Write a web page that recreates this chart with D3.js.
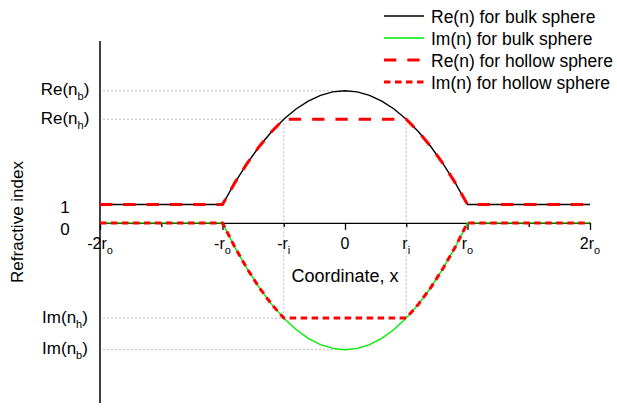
<!DOCTYPE html>
<html>
<head>
<meta charset="utf-8">
<script src="https://cdn.jsdelivr.net/npm/d3@7"></script>
<style>
  body { margin: 0; background: #fff; }
  text { font-family: "Liberation Sans", Arial, sans-serif; fill: #000; }
</style>
</head>
<body>
<div id="chart"></div>
<script>
// Data (x in units of r_o, y in arbitrary index units)
const xs       = [-2, -1, -0.9, -0.8, -0.7, -0.6, -0.5, -0.4, -0.3, -0.2, -0.1, 0, 0.1, 0.2, 0.3, 0.4, 0.5, 0.6, 0.7, 0.8, 0.9, 1, 2];
const reBulk   = [1, 1, 2.18, 3.23, 4.16, 4.96, 5.64, 6.20, 6.63, 6.94, 7.13, 7.19, 7.13, 6.94, 6.63, 6.20, 5.64, 4.96, 4.16, 3.23, 2.18, 1, 1];
const imBulk   = [0, 0, -1.31, -2.48, -3.52, -4.42, -5.18, -5.80, -6.28, -6.62, -6.83, -6.90, -6.83, -6.62, -6.28, -5.80, -5.18, -4.42, -3.52, -2.48, -1.31, 0, 0];
const reHollow = [1, 1, 2.18, 3.23, 4.16, 4.96, 5.64, 5.64, 5.64, 5.64, 5.64, 5.64, 5.64, 5.64, 5.64, 5.64, 5.64, 4.96, 4.16, 3.23, 2.18, 1, 1];
const imHollow = [0, 0, -1.31, -2.48, -3.52, -4.42, -5.18, -5.18, -5.18, -5.18, -5.18, -5.18, -5.18, -5.18, -5.18, -5.18, -5.18, -4.42, -3.52, -2.48, -1.31, 0, 0];

const xMajor = [-2, -1, 0, 1, 2];
const xMinor = [-1.5, -0.5, 0.5, 1.5];
const xTickLabels = [
  {v: -2, main: "-2r", sub: "o"},
  {v: -1, main: "-r", sub: "o"},
  {v: -0.5, main: "-r", sub: "i"},
  {v: 0, main: "0", sub: ""},
  {v: 0.5, main: "r", sub: "i"},
  {v: 1, main: "r", sub: "o"},
  {v: 2, main: "2r", sub: "o"}
];
const yTickLabels = [
  {v: 7.19, main: "Re(n", sub: "b", end: ")"},
  {v: 5.64, main: "Re(n", sub: "h", end: ")"},
  {v: 1, main: "1", sub: "", end: ""},
  {v: 0, main: "0", sub: "", end: ""},
  {v: -5.18, main: "Im(n", sub: "h", end: ")"},
  {v: -6.90, main: "Im(n", sub: "b", end: ")"}
];
const legendLabels = ["Re(n) for bulk sphere", "Im(n) for bulk sphere", "Re(n) for hollow sphere", "Im(n) for hollow sphere"];

// Layout
const width = 617, height = 408;
const svg = d3.select("#chart").append("svg")
  .attr("width", width)
  .attr("height", height);

const x = d3.scaleLinear().domain([-2, 2]).range([100, 590]);
const y = d3.scaleLinear().domain([-9.8, 9.9]).range([403, 41]);

// dotted guide lines
const guides = svg.append("g")
  .attr("stroke", "#bdbdbd")
  .attr("stroke-width", 1)
  .attr("stroke-dasharray", "2,2");
[[7.19, 0], [5.64, -0.5], [-5.18, -0.5], [-6.90, 0]].forEach(d => {
  guides.append("line")
    .attr("x1", x(-2) + 3).attr("x2", x(d[1]))
    .attr("y1", y(d[0])).attr("y2", y(d[0]));
});
[-0.5, 0.5].forEach(v => {
  guides.append("line")
    .attr("x1", x(v)).attr("x2", x(v))
    .attr("y1", y(5.64)).attr("y2", y(-5.18));
});

// axes
let axMajor = d3.axisBottom(x).tickValues(xMajor).tickSizeInner(7).tickSizeOuter(0).tickFormat("");
let axMinor = d3.axisBottom(x).tickValues(xMinor).tickSizeInner(4).tickSizeOuter(0).tickFormat("");
let xg = svg.append("g").attr("transform", `translate(0,${y(0)})`).call(axMajor);
let xg2 = svg.append("g").attr("transform", `translate(0,${y(0)})`).call(axMinor);
[xg, xg2].forEach(g => {
  g.selectAll("path,line").attr("stroke", "#000").attr("stroke-width", 1.3);
});
xg2.select(".domain").remove();

svg.append("line")
  .attr("x1", x(-2)).attr("x2", x(-2))
  .attr("y1", y(9.9)).attr("y2", y(-9.8))
  .attr("stroke", "#000").attr("stroke-width", 1.5);

// x tick labels
xTickLabels.forEach(d => {
  let t = svg.append("text")
    .attr("x", x(d.v)).attr("y", y(0) + 26)
    .attr("text-anchor", "middle")
    .style("font-size", "16px");
  t.append("tspan").text(d.main);
  if (d.sub) t.append("tspan").attr("dy", 5).style("font-size", "11px").text(d.sub);
});

// y tick labels
yTickLabels.forEach(d => {
  let dy = d.main == "0" ? 12 : d.main == "1" ? 8 : 4.5;
  let t = svg.append("text")
    .attr("x", 65).attr("y", y(d.v) + dy)
    .attr("text-anchor", "middle")
    .style("font-size", "17px");
  t.append("tspan").text(d.main);
  if (d.sub) {
    t.append("tspan").attr("dy", 5).style("font-size", "11px").text(d.sub);
    t.append("tspan").attr("dy", -5).text(d.end);
  }
});

// axis titles
svg.append("text")
  .attr("x", x(0)).attr("y", 282)
  .attr("text-anchor", "middle")
  .style("font-size", "18px")
  .text("Coordinate, x");
svg.append("text")
  .attr("transform", `translate(23,${(y(9.9) + y(-9.8)) / 2}) rotate(-90)`)
  .attr("text-anchor", "middle")
  .style("font-size", "17px")
  .text("Refractive index");

// curves
const series = [
  {vals: reBulk, color: "#000", w: 1.4, dash: null},
  {vals: imBulk, color: "#00ee00", w: 1.4, dash: null},
  {vals: reHollow, color: "#ff0000", w: 3, dash: "12.3,11"},
  {vals: imHollow, color: "#ff0000", w: 3, dash: "6.5,4.5"}
];
const line = d3.line().x(d => x(d[0])).y(d => y(d[1]));
series.forEach(s => {
  svg.append("path")
    .datum(xs.map((v, i) => [v, s.vals[i]]))
    .attr("fill", "none")
    .attr("stroke", s.color)
    .attr("stroke-width", s.w)
    .attr("stroke-dasharray", s.dash)
    .attr("d", line);
});

// legend
let legend = svg.append("g");
series.forEach((s, i) => {
  let ly = 16 + i * 22;
  legend.append("line")
    .attr("x1", 384).attr("x2", 424)
    .attr("y1", ly).attr("y2", ly)
    .attr("stroke", s.color)
    .attr("stroke-width", s.w)
    .attr("stroke-dasharray", s.dash);
  legend.append("text")
    .attr("x", 431).attr("y", ly + 6.5)
    .style("font-size", "17.5px")
    .text(legendLabels[i]);
});
</script>
</body>
</html>
